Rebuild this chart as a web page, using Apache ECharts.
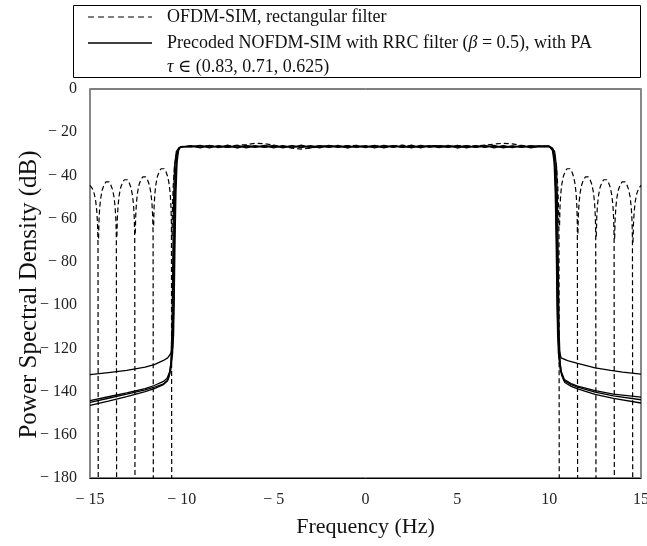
<!DOCTYPE html>
<html>
<head>
<meta charset="utf-8">
<script src="https://cdn.jsdelivr.net/npm/echarts@6/dist/echarts.min.js"></script>
<style>html,body{margin:0;padding:0;background:#fff;}#c{width:647px;height:546px;}</style>
</head>
<body>
<div id="c"></div>
<script>
// ---------- data ----------
const plateauFreq = [-9.5,-9,-8.5,-8,-7.5,-7,-6.5,-6,-5.5,-5,-4.5,-4,-3.5,-3,-2.5,-2,-1.5,-1,-0.5,0,0.5,1,1.5,2,2.5,3,3.5,4,4.5,5,5.5,6,6.5,7,7.5,8,8.5,9,9.5];

// OFDM-SIM, rectangular filter (dashed)
const ofdmPlateau = [-26.4,-26.8,-26.2,-26.9,-26.5,-26.1,-25.7,-25.1,-25.3,-26.0,-26.7,-27.4,-27.8,-27.3,-26.6,-26.2,-26.8,-26.3,-26.1,-26.7,-26.2,-26.9,-26.4,-26.0,-26.5,-26.9,-26.3,-26.1,-26.7,-26.2,-26.8,-26.4,-26.0,-25.5,-25.1,-25.4,-26.2,-26.7,-26.3];
const ofdmLeft = [
  [-15,-44.6],[-14.87,-46.1],[-14.77,-48.4],[-14.69,-51.9],[-14.63,-56.5],[-14.59,-62.5],[-14.565,-71],[-14.55,-200],
  [-14.535,-69.2],[-14.51,-60.7],[-14.47,-54.7],[-14.41,-50.1],[-14.33,-46.6],[-14.23,-44.3],[-14.13,-43.0],[-14.05,-42.7],[-13.97,-43.0],[-13.87,-44.3],[-13.77,-46.6],[-13.69,-50.1],[-13.63,-54.7],[-13.59,-60.7],[-13.565,-69.2],[-13.55,-200],
  [-13.535,-68.2],[-13.51,-59.7],[-13.47,-53.7],[-13.41,-49.1],[-13.33,-45.6],[-13.23,-43.3],[-13.13,-42.0],[-13.05,-41.7],[-12.97,-42.0],[-12.87,-43.3],[-12.77,-45.6],[-12.69,-49.1],[-12.63,-53.7],[-12.59,-59.7],[-12.565,-68.2],[-12.55,-200],
  [-12.535,-66.9],[-12.51,-58.4],[-12.47,-52.4],[-12.41,-47.8],[-12.33,-44.3],[-12.23,-42.0],[-12.13,-40.7],[-12.05,-40.4],[-11.97,-40.7],[-11.87,-42.0],[-11.77,-44.3],[-11.69,-47.8],[-11.63,-52.4],[-11.59,-58.4],[-11.565,-66.9],[-11.55,-200],
  [-11.535,-63.1],[-11.51,-54.6],[-11.47,-48.6],[-11.41,-44.0],[-11.33,-40.5],[-11.23,-38.2],[-11.13,-36.9],[-11.05,-36.6],[-10.97,-36.9],[-10.87,-38.2],[-10.77,-40.5],[-10.69,-44.0],[-10.63,-48.6],[-10.59,-54.6],[-10.565,-63.1],[-10.55,-200],
  [-10.535,-68],[-10.51,-55],[-10.47,-45],[-10.4,-36],[-10.32,-31],[-10.22,-28.2],[-10.1,-27],[-10,-26.6]
];
const ofdmRight = [
  [10,-26.5],[10.1,-27],[10.22,-28.2],[10.32,-31],[10.4,-36],[10.47,-45],[10.51,-55],[10.535,-68],[10.55,-200],
  [10.565,-63.1],[10.59,-54.6],[10.63,-48.6],[10.69,-44.0],[10.77,-40.5],[10.87,-38.2],[10.97,-36.9],[11.05,-36.6],[11.13,-36.9],[11.23,-38.2],[11.33,-40.5],[11.41,-44.0],[11.47,-48.6],[11.51,-54.6],[11.535,-63.1],[11.55,-200],
  [11.565,-66.9],[11.59,-58.4],[11.63,-52.4],[11.69,-47.8],[11.77,-44.3],[11.87,-42.0],[11.97,-40.7],[12.05,-40.4],[12.13,-40.7],[12.23,-42.0],[12.33,-44.3],[12.41,-47.8],[12.47,-52.4],[12.51,-58.4],[12.535,-66.9],[12.55,-200],
  [12.565,-68.2],[12.59,-59.7],[12.63,-53.7],[12.69,-49.1],[12.77,-45.6],[12.87,-43.3],[12.97,-42.0],[13.05,-41.7],[13.13,-42.0],[13.23,-43.3],[13.33,-45.6],[13.41,-49.1],[13.47,-53.7],[13.51,-59.7],[13.535,-68.2],[13.55,-200],
  [13.565,-69.2],[13.59,-60.7],[13.63,-54.7],[13.69,-50.1],[13.77,-46.6],[13.87,-44.3],[13.97,-43.0],[14.05,-42.7],[14.13,-43.0],[14.23,-44.3],[14.33,-46.6],[14.41,-50.1],[14.47,-54.7],[14.51,-60.7],[14.535,-69.2],[14.55,-200],
  [14.565,-71],[14.59,-62.5],[14.63,-56.5],[14.69,-51.9],[14.77,-48.4],[14.87,-46.1],[15,-44.6]
];

// Precoded NOFDM-SIM with RRC filter, with PA (solid) - four traces
const pa1Left = [[-15,-132.2],[-14,-131.2],[-13,-130.2],[-12,-128.7],[-11.5,-127.5],[-11,-125.6],[-10.77,-124.4],[-10.6,-122.3],[-10.5,-120],[-10.45,-114],[-10.41,-95],[-10.37,-70],[-10.32,-48],[-10.26,-34],[-10.18,-28.5],[-10.08,-26.9],[-10,-26.6]];
const pa1Plateau = [-26.2,-27.2,-26.1,-27.1,-26.0,-27.3,-26.2,-27.0,-26.1,-27.2,-26.2,-27.1,-26.0,-27.2,-26.3,-27.0,-26.1,-27.3,-26.2,-27.1,-26.1,-27.2,-26.2,-27.0,-26.0,-27.2,-26.2,-27.1,-26.1,-27.3,-26.2,-27.0,-26.1,-27.2,-26.2,-27.1,-26.1,-27.2,-26.5];
const pa1Right = [[10,-26.5],[10.08,-26.9],[10.18,-28.5],[10.27,-34],[10.33,-48],[10.38,-70],[10.42,-95],[10.46,-114],[10.52,-120],[10.65,-124.4],[11,-125.7],[11.55,-127],[12.5,-129],[13.35,-130.2],[14,-131],[15,-131.9]];

const pa2Left = [[-15,-144.2],[-14,-142.4],[-13,-140.6],[-12,-138.6],[-11.5,-137.2],[-11,-135.3],[-10.8,-133.8],[-10.65,-130.5],[-10.56,-124],[-10.5,-110],[-10.46,-85],[-10.42,-60],[-10.36,-40],[-10.28,-30.5],[-10.18,-27.5],[-10.05,-26.7],[-10,-26.5]];
const pa2Plateau = [-26.7,-26.1,-27.2,-26.2,-27.0,-26.1,-27.2,-26.4,-26.9,-26.1,-27.2,-26.2,-27.0,-26.2,-27.2,-26.1,-27.0,-26.4,-26.9,-26.2,-27.2,-26.1,-27.0,-26.2,-27.2,-26.1,-26.9,-26.4,-27.0,-26.1,-27.2,-26.2,-27.0,-26.1,-27.2,-26.4,-26.9,-26.2,-26.7];
const pa2Right = [[10,-26.5],[10.05,-26.7],[10.18,-27.5],[10.28,-30.5],[10.36,-40],[10.42,-60],[10.46,-85],[10.5,-110],[10.56,-124],[10.65,-130.5],[10.83,-134.4],[11.2,-136.3],[11.55,-137.5],[12.5,-139.6],[13.5,-141.2],[15,-142.6]];

const pa3Left = [[-15,-145],[-14,-143.1],[-13,-141.2],[-12,-139.2],[-11.5,-138],[-11,-136.4],[-10.75,-134.6],[-10.6,-130],[-10.5,-122],[-10.44,-100],[-10.4,-70],[-10.35,-45],[-10.27,-31],[-10.17,-27.8],[-10.06,-26.8],[-10,-26.6]];
const pa3Plateau = [-26.5,-26.9,-26.3,-26.8,-26.5,-27.0,-26.2,-26.9,-26.3,-26.8,-26.5,-27.0,-26.3,-26.8,-26.2,-26.9,-26.5,-26.9,-26.3,-26.8,-26.5,-26.9,-26.2,-27.0,-26.5,-26.8,-26.3,-26.9,-26.5,-26.8,-26.2,-27.0,-26.3,-26.8,-26.5,-26.9,-26.3,-26.9,-26.5];
const pa3Right = [[10,-26.6],[10.06,-26.8],[10.17,-27.8],[10.27,-31],[10.35,-45],[10.4,-70],[10.44,-100],[10.5,-122],[10.6,-130],[10.8,-134.8],[11.2,-136.8],[11.55,-138],[12.5,-140.3],[13.5,-142],[15,-143.8]];

const pa4Left = [[-15,-146.4],[-14,-144.4],[-13,-142.3],[-12,-140],[-11.5,-138.6],[-11,-136.8],[-10.8,-135.2],[-10.68,-132.5],[-10.6,-127],[-10.54,-112],[-10.5,-85],[-10.46,-55],[-10.4,-36],[-10.3,-29],[-10.15,-27.1],[-10,-26.6]];
const pa4Plateau = [-26.8,-26.3,-26.9,-26.4,-27.0,-26.3,-26.8,-26.2,-27.0,-26.4,-26.8,-26.3,-27.0,-26.4,-26.9,-26.3,-26.8,-26.2,-27.0,-26.4,-26.9,-26.3,-26.8,-26.4,-27.0,-26.3,-26.9,-26.2,-26.8,-26.4,-27.0,-26.3,-26.8,-26.4,-26.9,-26.3,-27.0,-26.4,-26.6];
const pa4Right = [[10,-26.6],[10.15,-27.1],[10.3,-29],[10.4,-36],[10.46,-55],[10.5,-85],[10.54,-112],[10.6,-127],[10.68,-132.5],[10.85,-135.8],[11.2,-137.6],[11.55,-138.8],[12.5,-141.3],[13.5,-143.2],[15,-145.3]];

const legendLabels = ['OFDM-SIM, rectangular filter', 'Precoded NOFDM-SIM with RRC filter ({i|β} = 0.5), with PA', '{i|τ} ∈ (0.83, 0.71, 0.625)'];
const xTitle = 'Frequency (Hz)';
const yTitle = 'Power Spectral Density (dB)';

// ---------- build ----------
// a break after each spectral null so the dashed vertical is drawn only once
function build(left, plateau, right) {
  const pts = left.concat(plateauFreq.map((f, i) => [f, plateau[i]]), right);
  const out = [];
  pts.forEach(p => { out.push(p); if (p[1] <= -200) out.push([p[0], '-']); });
  return out;
}
const FONT = '"Liberation Serif", "DejaVu Serif", serif';
const fmt = v => v === 0 ? '0' : (v < 0 ? '\u2212 ' + Math.abs(v) : String(v));

const solid = (name, data) => ({
  name, type: 'line', data, showSymbol: false, symbol: 'none', clip: true, connectNulls: false,
  lineStyle: { color: '#000', width: 1.3 }, z: 3
});

const chart = echarts.init(document.getElementById('c'), null, { renderer: 'canvas' });
chart.setOption({
  animation: false,
  backgroundColor: '#fff',
  grid: { left: 90, right: 6, top: 89, bottom: 68, show: true, borderColor: '#000', borderWidth: 1,
          backgroundColor: 'transparent', outerBoundsMode: 'none', containLabel: false },
  xAxis: {
    type: 'value', min: -15, max: 15, interval: 5,
    axisLine: { show: true, onZero: false, lineStyle: { color: '#000', width: 1 } },
    axisTick: { show: false }, splitLine: { show: false },
    axisLabel: { formatter: fmt, fontFamily: FONT, fontSize: 16, color: '#222', margin: 14 },
    name: xTitle, nameLocation: 'middle', nameGap: 38,
    nameTextStyle: { fontFamily: FONT, fontSize: 22, color: '#111' }
  },
  yAxis: [{
    type: 'value', min: -180, max: 0, interval: 20,
    axisLine: { show: true, onZero: false, lineStyle: { color: '#888', width: 2 } },
    axisTick: { show: false }, splitLine: { show: false },
    axisLabel: { formatter: fmt, fontFamily: FONT, fontSize: 16, color: '#222', margin: 13 },
    name: yTitle, nameLocation: 'middle', nameGap: 48, nameMoveOverlap: false,
    nameTextStyle: { fontFamily: FONT, fontSize: 25, color: '#111', padding: [0, 22, 0, 0] }
  }, {
    type: 'value', min: -180, max: 0, interval: 20, position: 'right',
    axisLine: { show: true, onZero: false, lineStyle: { color: '#888', width: 2 } },
    axisTick: { show: false }, splitLine: { show: false }, axisLabel: { show: false }
  }],
  series: [
    { name: 'OFDM', type: 'line', data: build(ofdmLeft, ofdmPlateau, ofdmRight), showSymbol: false, symbol: 'none', clip: true, connectNulls: false,
      lineStyle: { color: '#000', width: 1.2, type: [5, 3] }, z: 2 },
    solid('PA1', build(pa1Left, pa1Plateau, pa1Right)),
    solid('PA2', build(pa2Left, pa2Plateau, pa2Right)),
    solid('PA3', build(pa3Left, pa3Plateau, pa3Right)),
    solid('PA4', build(pa4Left, pa4Plateau, pa4Right))
  ],
  graphic: [
    { type: 'rect', shape: { x: 73.5, y: 5.5, width: 567, height: 72 }, style: { fill: '#fff', stroke: '#000', lineWidth: 1 } },
    { type: 'line', shape: { x1: 88, y1: 17, x2: 152, y2: 17 }, style: { stroke: '#000', lineWidth: 1.2, lineDash: [6, 4] } },
    { type: 'text', x: 167, y: 17, style: { text: legendLabels[0], font: '18px ' + FONT, fill: '#111', verticalAlign: 'middle' } },
    { type: 'line', shape: { x1: 88, y1: 43, x2: 152, y2: 43 }, style: { stroke: '#000', lineWidth: 1.3 } },
    { type: 'text', x: 167, y: 43, style: { text: legendLabels[1], font: '18px ' + FONT, fill: '#111', verticalAlign: 'middle',
      rich: { i: { fontStyle: 'italic', fontFamily: FONT, fontSize: 18 } } } },
    { type: 'text', x: 167, y: 67, style: { text: legendLabels[2], font: '18px ' + FONT, fill: '#111', verticalAlign: 'middle',
      rich: { i: { fontStyle: 'italic', fontFamily: FONT, fontSize: 18 } } } }
  ]
});
</script>
</body>
</html>
